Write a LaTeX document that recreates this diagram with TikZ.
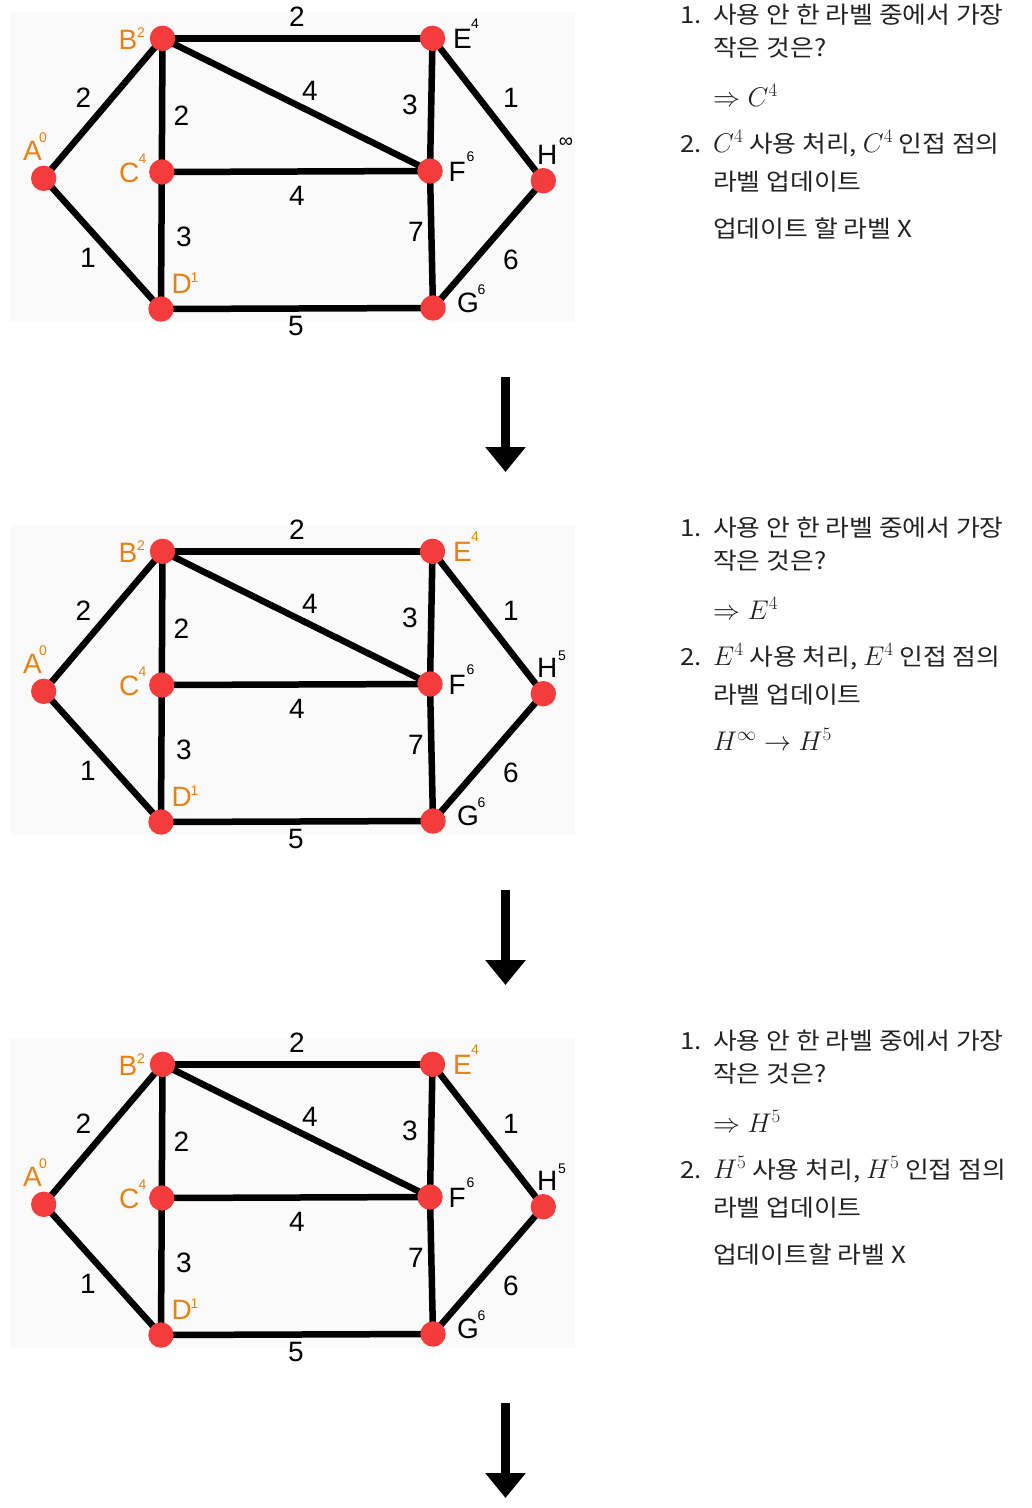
\RequirePackage{fix-cm}
\documentclass[tikz,border=0pt]{standalone}
\usepackage{fontspec}
\newfontfamily\krfont[FakeStretch=1.1]{Noto Sans CJK KR}
\newfontfamily\lsans{Liberation Sans}
\usetikzlibrary{arrows.meta}
\DeclareMathSizes{27}{27}{19}{14}
\definecolor{nodered}{RGB}{245,60,60}
\definecolor{lblorange}{RGB}{232,128,20}
\definecolor{bgpanel}{RGB}{250,250,250}
\definecolor{txt}{RGB}{34,34,34}
\pgfdeclarelayer{bg}
\pgfdeclarelayer{edges}
\pgfsetlayers{bg,edges,main}
\tikzset{
  vtx/.style={circle,fill=nodered,minimum size=25.4pt,inner sep=0pt},
  edgeline/.style={line width=6.5pt,black},
  wt/.style={font=\lsans\fontsize{28}{28}\selectfont,inner sep=0pt},
  vname/.style={font=\lsans\fontsize{28}{28}\selectfont,inner sep=0pt,anchor=base west},
  vsup/.style={font=\lsans\fontsize{14}{14}\selectfont,inner sep=0pt},
  krtext/.style={font=\krfont\fontsize{23.5}{27}\selectfont,text=txt,inner sep=0pt,anchor=base west},
  bigarrow/.style={line width=9pt,-{Triangle[width=39pt,length=25pt]}},
}
\newcommand\mth[1]{{\fontsize{27}{28}\selectfont$#1$}}
% #1 prefix, #2 y offset, #3 colour of E, #4 H superscript, #5 x of H superscript
\newcommand\graphpanel[5]{%
\begin{scope}[shift={(0,#2)}]
  \begin{pgfonlayer}{bg}
    \fill[bgpanel] (10,12) rectangle (575,322);
  \end{pgfonlayer}
  \node[vtx] (#1A) at (43.7,178.3) {};
  \node[vtx] (#1B) at (162.5,38.3) {};
  \node[vtx] (#1C) at (161.8,172) {};
  \node[vtx] (#1D) at (161,309) {};
  \node[vtx] (#1E) at (432.5,38.3) {};
  \node[vtx] (#1F) at (430,171) {};
  \node[vtx] (#1G) at (433,308) {};
  \node[vtx] (#1H) at (543.3,180.7) {};
  \begin{pgfonlayer}{edges}
    \foreach \u/\v in {A/B,A/D,B/C,C/D,B/E,B/F,C/F,D/G,E/F,F/G,E/H,G/H}
      \draw[edgeline] (#1\u.center) -- (#1\v.center);
  \end{pgfonlayer}
  \node[wt] (#1wAB) at (83.3,97.8) {2};
  \node[wt] (#1wAD) at (88,258) {1};
  \node[wt] (#1wBC) at (181.5,115.8) {2};
  \node[wt] (#1wCD) at (184,236.7) {3};
  \node[wt] (#1wBE) at (297,17) {2};
  \node[wt] (#1wBF) at (310,90.5) {4};
  \node[wt] (#1wCF) at (297,196) {4};
  \node[wt] (#1wDG) at (296,326) {5};
  \node[wt] (#1wEF) at (410,105) {3};
  \node[wt] (#1wFG) at (416,231.7) {7};
  \node[wt] (#1wEH) at (511,97.5) {1};
  \node[wt] (#1wGH) at (511,259.5) {6};
  \node[vname,text=lblorange] (#1nA) at (23,160.7) {A};
  \node[vsup,text=lblorange] (#1sA) at (43,137.5) {0};
  \node[vname,text=lblorange] (#1nB) at (118.5,49.3) {B};
  \node[vsup,text=lblorange] (#1sB) at (141,33) {2};
  \node[vname,text=lblorange] (#1nC) at (119,182.7) {C};
  \node[vsup,text=lblorange] (#1sC) at (142.5,159) {4};
  \node[vname,text=lblorange] (#1nD) at (171.5,293.3) {D};
  \node[vsup,text=lblorange] (#1sD) at (194.5,278) {1};
  \node[vname,text=#3] (#1nE) at (452.8,48.3) {E};
  \node[vsup,text=#3] (#1sE) at (475,23.8) {4};
  \node[vname] (#1nF) at (448.5,181.7) {F};
  \node[vsup] (#1sF) at (470.5,157) {6};
  \node[vname] (#1nG) at (457,312.5) {G};
  \node[vsup] (#1sG) at (481.5,290) {6};
  \node[vname] (#1nH) at (537,164.3) {H};
  \node[vsup] (#1sH) at (#5,142.5) {#4};
\end{scope}}
% #1 prefix, #2 y offset, #3 line 3, #4 line 4, #5 line 6
\newcommand\steptext[5]{%
\begin{scope}[shift={(0,#2)}]
  \node[krtext] (#1n1) at (680,23) {1.};
  \node[krtext] (#1l1) at (713,23) {사용 안 한 라벨 중에서 가장};
  \node[krtext] (#1l2) at (713,56) {작은 것은?};
  \node[krtext] (#1l3) at (713,106) {#3};
  \node[krtext] (#1n2) at (680,152) {2.};
  \node[krtext] (#1l4) at (713,152) {#4};
  \node[krtext] (#1l5) at (713,190) {라벨 업데이트};
  \node[krtext] (#1l6) at (713,237) {#5};
\end{scope}}
\begin{document}
\begin{tikzpicture}[x=1pt,y=-1pt]
  \useasboundingbox (0,0) rectangle (1032,1508);
  \graphpanel{p1}{0}{black}{{\fontsize{20}{20}\selectfont ∞}}{566}
  \graphpanel{p2}{513}{lblorange}{5}{562}
  \graphpanel{p3}{1026}{lblorange}{5}{562}
  \steptext{t1}{0}{\mth{\Rightarrow C^4}}{\mth{C^4} 사용 처리, \mth{C^4} 인접 점의}{업데이트 할 라벨 X}
  \steptext{t2}{513}{\mth{\Rightarrow E^4}}{\mth{E^4} 사용 처리, \mth{E^4} 인접 점의}{\mth{H^\infty \to H^5}}
  \steptext{t3}{1026}{\mth{\Rightarrow H^5}}{\mth{H^5} 사용 처리, \mth{H^5} 인접 점의}{업데이트할 라벨 X}
  \coordinate (a1s) at (505.5,377);
  \coordinate (a1e) at (505.5,472);
  \coordinate (a2s) at (505.5,890);
  \coordinate (a2e) at (505.5,985);
  \coordinate (a3s) at (505.5,1403);
  \coordinate (a3e) at (505.5,1498);
  \draw[bigarrow] (a1s) -- (a1e);
  \draw[bigarrow] (a2s) -- (a2e);
  \draw[bigarrow] (a3s) -- (a3e);
\end{tikzpicture}
\end{document}
